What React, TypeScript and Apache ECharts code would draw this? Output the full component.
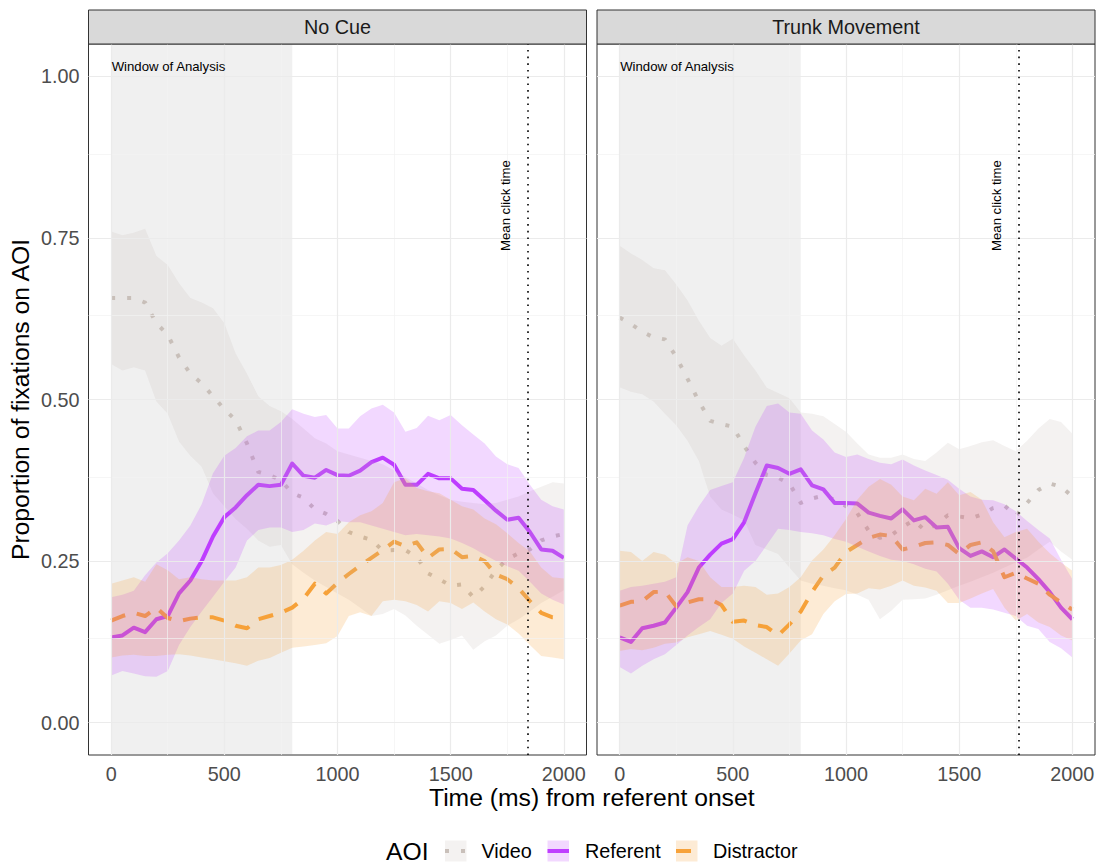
import React, { useEffect, useRef } from "react";
import * as echarts from "echarts";

const FONT = "'Liberation Sans', Arial, Helvetica, sans-serif";

const PANELS = ["No Cue", "Trunk Movement"];
const CLICK_TIMES = [1841, 1763];
const WINDOW_RANGE = [0, 800];
const X_TICKS = [0, 500, 1000, 1500, 2000];
const X_MINOR = [250, 750, 1250, 1750];
const Y_TICKS = [0, 0.25, 0.5, 0.75, 1];
const Y_MINOR = [0.125, 0.375, 0.625, 0.875];
const AOI = ["Video", "Referent", "Distractor"];
const LINE_COLORS = ["#C9C0BA", "#BF3EFF", "#F7A23A"];
const RIBBON_COLORS = ["rgba(201,192,186,0.2)", "rgba(191,62,255,0.2)", "rgba(247,162,58,0.21)"];

const TIME = [0, 50, 100, 150, 200, 250, 300, 350, 400, 450,
  500, 550, 600, 650, 700, 750, 800, 850, 900, 950,
  1000, 1050, 1100, 1150, 1200, 1250, 1300, 1350, 1400, 1450,
  1500, 1550, 1600, 1650, 1700, 1750, 1800, 1850, 1900, 1950, 2000];

// ---- No Cue: means
const NC_VIDEO = [0.657, 0.657, 0.657, 0.650, 0.618, 0.600, 0.565, 0.540, 0.525, 0.505,
  0.485, 0.468, 0.432, 0.388, 0.383, 0.375, 0.355, 0.348, 0.330, 0.323,
  0.312, 0.295, 0.288, 0.283, 0.266, 0.267, 0.267, 0.256, 0.231, 0.222,
  0.212, 0.214, 0.194, 0.211, 0.236, 0.253, 0.262, 0.268, 0.282, 0.288, 0.292];
const NC_REF = [0.132, 0.135, 0.147, 0.140, 0.160, 0.165, 0.200, 0.220, 0.250, 0.288,
  0.318, 0.333, 0.352, 0.368, 0.366, 0.368, 0.401, 0.382, 0.379, 0.391,
  0.383, 0.382, 0.390, 0.403, 0.410, 0.399, 0.368, 0.368, 0.385, 0.378,
  0.378, 0.362, 0.360, 0.344, 0.328, 0.314, 0.317, 0.295, 0.268, 0.266, 0.255];
const NC_DIS = [0.158, 0.165, 0.170, 0.165, 0.178, 0.162, 0.157, 0.161, 0.163, 0.163,
  0.158, 0.150, 0.146, 0.160, 0.165, 0.170, 0.178, 0.192, 0.215, 0.200,
  0.216, 0.230, 0.243, 0.255, 0.267, 0.280, 0.273, 0.279, 0.255, 0.268,
  0.269, 0.256, 0.258, 0.250, 0.229, 0.222, 0.208, 0.188, 0.170, 0.163, 0.163];

// ---- No Cue: ribbons (upper / lower)
const NC_VIDEO_HI = [0.760, 0.754, 0.758, 0.764, 0.722, 0.708, 0.680, 0.657, 0.650, 0.641,
  0.618, 0.571, 0.540, 0.505, 0.490, 0.482, 0.470, 0.455, 0.440, 0.432,
  0.420, 0.415, 0.410, 0.405, 0.400, 0.390, 0.380, 0.370, 0.360, 0.352,
  0.345, 0.342, 0.340, 0.338, 0.340, 0.345, 0.350, 0.358, 0.365, 0.372, 0.370];
const NC_VIDEO_LO = [0.555, 0.545, 0.550, 0.545, 0.497, 0.478, 0.435, 0.413, 0.396, 0.355,
  0.335, 0.315, 0.300, 0.282, 0.272, 0.275, 0.245, 0.232, 0.220, 0.210,
  0.200, 0.190, 0.178, 0.165, 0.168, 0.176, 0.166, 0.150, 0.136, 0.122,
  0.128, 0.135, 0.113, 0.126, 0.135, 0.150, 0.160, 0.172, 0.185, 0.195, 0.205];
const NC_REF_HI = [0.194, 0.198, 0.204, 0.228, 0.248, 0.262, 0.282, 0.305, 0.338, 0.386,
  0.413, 0.425, 0.443, 0.452, 0.452, 0.465, 0.485, 0.478, 0.473, 0.476,
  0.455, 0.455, 0.474, 0.486, 0.492, 0.480, 0.450, 0.456, 0.475, 0.468,
  0.476, 0.460, 0.446, 0.432, 0.412, 0.400, 0.394, 0.368, 0.345, 0.335, 0.330];
const NC_REF_LO = [0.073, 0.080, 0.076, 0.072, 0.071, 0.080, 0.120, 0.148, 0.172, 0.195,
  0.218, 0.240, 0.282, 0.298, 0.302, 0.302, 0.295, 0.298, 0.308, 0.305,
  0.312, 0.310, 0.310, 0.305, 0.300, 0.295, 0.290, 0.292, 0.290, 0.288,
  0.285, 0.278, 0.270, 0.260, 0.250, 0.242, 0.235, 0.218, 0.200, 0.190, 0.183];
const NC_DIS_HI = [0.215, 0.220, 0.225, 0.218, 0.245, 0.236, 0.222, 0.225, 0.222, 0.220,
  0.220, 0.220, 0.225, 0.240, 0.240, 0.244, 0.252, 0.266, 0.282, 0.295,
  0.292, 0.310, 0.321, 0.327, 0.340, 0.372, 0.378, 0.363, 0.358, 0.355,
  0.345, 0.335, 0.330, 0.316, 0.307, 0.293, 0.278, 0.265, 0.240, 0.225, 0.223];
const NC_DIS_LO = [0.101, 0.104, 0.105, 0.103, 0.103, 0.105, 0.106, 0.104, 0.101, 0.098,
  0.095, 0.092, 0.088, 0.096, 0.100, 0.108, 0.116, 0.118, 0.120, 0.123,
  0.134, 0.165, 0.171, 0.165, 0.188, 0.190, 0.188, 0.182, 0.172, 0.188,
  0.185, 0.176, 0.186, 0.172, 0.160, 0.152, 0.138, 0.120, 0.103, 0.101, 0.098];

// ---- Trunk Movement: means
const TM_VIDEO = [0.627, 0.617, 0.605, 0.596, 0.593, 0.566, 0.532, 0.497, 0.467, 0.462,
  0.458, 0.428, 0.402, 0.383, 0.379, 0.370, 0.340, 0.347, 0.351, 0.345,
  0.335, 0.324, 0.297, 0.286, 0.290, 0.303, 0.313, 0.297, 0.307, 0.321,
  0.319, 0.316, 0.322, 0.332, 0.336, 0.320, 0.340, 0.360, 0.370, 0.365, 0.350];
const TM_REF = [0.132, 0.125, 0.146, 0.150, 0.155, 0.178, 0.202, 0.240, 0.260, 0.277,
  0.284, 0.310, 0.355, 0.398, 0.394, 0.385, 0.392, 0.367, 0.361, 0.340,
  0.340, 0.339, 0.325, 0.320, 0.316, 0.330, 0.313, 0.318, 0.302, 0.303,
  0.270, 0.258, 0.265, 0.256, 0.268, 0.254, 0.240, 0.222, 0.202, 0.178, 0.160];
const TM_DIS = [0.181, 0.187, 0.188, 0.202, 0.203, 0.180, 0.186, 0.191, 0.191, 0.182,
  0.156, 0.158, 0.151, 0.148, 0.135, 0.152, 0.172, 0.202, 0.228, 0.240,
  0.264, 0.275, 0.286, 0.291, 0.289, 0.268, 0.272, 0.278, 0.279, 0.275,
  0.261, 0.275, 0.279, 0.265, 0.225, 0.232, 0.223, 0.215, 0.198, 0.186, 0.175];

// ---- Trunk Movement: ribbons (upper / lower)
const TM_VIDEO_HI = [0.738, 0.726, 0.716, 0.703, 0.700, 0.678, 0.653, 0.622, 0.595, 0.583,
  0.594, 0.568, 0.545, 0.518, 0.510, 0.502, 0.480, 0.478, 0.474, 0.462,
  0.450, 0.432, 0.415, 0.410, 0.410, 0.415, 0.408, 0.405, 0.418, 0.433,
  0.423, 0.428, 0.434, 0.437, 0.428, 0.420, 0.436, 0.455, 0.470, 0.465, 0.447];
const TM_VIDEO_LO = [0.519, 0.512, 0.508, 0.497, 0.478, 0.460, 0.436, 0.405, 0.350, 0.330,
  0.322, 0.313, 0.275, 0.268, 0.261, 0.240, 0.220, 0.215, 0.212, 0.208,
  0.205, 0.198, 0.190, 0.160, 0.173, 0.190, 0.191, 0.192, 0.198, 0.205,
  0.212, 0.218, 0.225, 0.232, 0.240, 0.248, 0.255, 0.268, 0.280, 0.265, 0.252];
const TM_REF_HI = [0.204, 0.210, 0.212, 0.215, 0.218, 0.225, 0.305, 0.335, 0.360, 0.366,
  0.372, 0.410, 0.458, 0.490, 0.494, 0.480, 0.478, 0.452, 0.438, 0.418,
  0.411, 0.415, 0.408, 0.402, 0.400, 0.407, 0.398, 0.390, 0.383, 0.376,
  0.362, 0.350, 0.345, 0.344, 0.338, 0.327, 0.312, 0.298, 0.285, 0.252, 0.222];
const TM_REF_LO = [0.086, 0.076, 0.088, 0.098, 0.106, 0.120, 0.135, 0.148, 0.160, 0.185,
  0.200, 0.235, 0.250, 0.275, 0.300, 0.298, 0.295, 0.293, 0.290, 0.284,
  0.280, 0.272, 0.265, 0.258, 0.252, 0.250, 0.245, 0.238, 0.234, 0.215,
  0.190, 0.178, 0.178, 0.175, 0.170, 0.165, 0.150, 0.145, 0.125, 0.115, 0.101];
const TM_DIS_HI = [0.266, 0.264, 0.250, 0.264, 0.260, 0.246, 0.256, 0.250, 0.225, 0.210,
  0.210, 0.212, 0.210, 0.198, 0.200, 0.210, 0.225, 0.251, 0.268, 0.290,
  0.315, 0.345, 0.365, 0.377, 0.368, 0.350, 0.344, 0.362, 0.354, 0.372,
  0.352, 0.357, 0.345, 0.310, 0.287, 0.295, 0.300, 0.280, 0.262, 0.248, 0.235];
const TM_DIS_LO = [0.111, 0.114, 0.112, 0.116, 0.122, 0.124, 0.132, 0.137, 0.142, 0.136,
  0.130, 0.118, 0.108, 0.098, 0.088, 0.107, 0.127, 0.137, 0.168, 0.188,
  0.199, 0.200, 0.208, 0.206, 0.212, 0.220, 0.212, 0.209, 0.204, 0.185,
  0.185, 0.192, 0.200, 0.207, 0.178, 0.158, 0.168, 0.155, 0.148, 0.135, 0.127];

const MEANS = [[NC_VIDEO, NC_REF, NC_DIS], [TM_VIDEO, TM_REF, TM_DIS]];
const HIS = [[NC_VIDEO_HI, NC_REF_HI, NC_DIS_HI], [TM_VIDEO_HI, TM_REF_HI, TM_DIS_HI]];
const LOS = [[NC_VIDEO_LO, NC_REF_LO, NC_DIS_LO], [TM_VIDEO_LO, TM_REF_LO, TM_DIS_LO]];

// ---- layout
const GRID_LEFT = [88.5, 597];
const GRID_W = 498;
const GRID_TOP = 44;
const GRID_H = 711;
const LINE_W = 4;
const DASHES: any[] = [[4, 12], "solid", [15, 12]];

function buildOption() {
  const grid = GRID_LEFT.map((l) => ({
    left: l, top: GRID_TOP, width: GRID_W, height: GRID_H, show: true,
    borderColor: "#333333", borderWidth: 1, containLabel: false, outerBoundsMode: "none",
  }));
  const xAxis = [0, 1].map((p) => ({
    type: "value", gridIndex: p, min: -100, max: 2100,
    axisLine: { show: false }, splitLine: { show: false },
    axisTick: { show: true, customValues: X_TICKS, length: 5, lineStyle: { color: "#333333", width: 1 } },
    axisLabel: { customValues: X_TICKS, color: "#4D4D4D", fontSize: 19.8, lineHeight: 18, fontFamily: FONT, margin: 10, formatter: (v: number) => String(v) },
  }));
  const yAxis = [0, 1].map((p) => ({
    type: "value", gridIndex: p, min: -0.05, max: 1.05,
    axisLine: { show: false }, splitLine: { show: false },
    axisTick: { show: p === 0, customValues: Y_TICKS, length: 5, lineStyle: { color: "#333333", width: 1 } },
    axisLabel: { show: p === 0, customValues: Y_TICKS, color: "#4D4D4D", fontSize: 19.8, fontFamily: FONT, margin: 9, formatter: (v: number) => v.toFixed(2) },
  }));

  const series: any[] = [];
  for (let p = 0; p < 2; p++) {
    const major = { color: "#EBEBEB", width: 1.2, type: "solid" };
    const minor = { color: "#F2F2F2", width: 0.7, type: "solid" };
    series.push({
      type: "line", xAxisIndex: p, yAxisIndex: p, data: [[-100, -0.05]], symbol: "none",
      lineStyle: { opacity: 0 }, z: 1, silent: true,
      markLine: {
        silent: true, symbol: ["none", "none"], label: { show: false }, emphasis: { disabled: true },
        data: [
          ...X_MINOR.map((v) => ({ xAxis: v, lineStyle: minor })),
          ...Y_MINOR.map((v) => ({ yAxis: v, lineStyle: minor })),
          ...X_TICKS.map((v) => ({ xAxis: v, lineStyle: major })),
          ...Y_TICKS.map((v) => ({ yAxis: v, lineStyle: major })),
        ],
      },
    });
    series.push({
      type: "line", xAxisIndex: p, yAxisIndex: p, data: [[-100, -0.05]], symbol: "none",
      lineStyle: { opacity: 0 }, z: 2, silent: true,
      markArea: {
        silent: true, label: { show: false }, emphasis: { disabled: true },
        itemStyle: { color: "rgba(150,150,150,0.14)" },
        data: [[{ xAxis: WINDOW_RANGE[0] }, { xAxis: WINDOW_RANGE[1] }]],
      },
      markLine: {
        silent: true, symbol: ["none", "none"], label: { show: false }, emphasis: { disabled: true },
        lineStyle: { color: "#000000", width: 1.6, type: [1.6, 5.1], cap: "butt" },
        data: [{ xAxis: CLICK_TIMES[p] }],
      },
    });
    for (let a = 0; a < 3; a++) {
      series.push({
        type: "line", name: AOI[a], xAxisIndex: p, yAxisIndex: p, z: 3, silent: true,
        data: TIME.map((t, i) => [t, MEANS[p][a][i]]),
        showSymbol: false, symbol: "none",
        lineStyle: { color: LINE_COLORS[a], width: LINE_W, type: DASHES[a], cap: "butt", join: "round" },
      });
    }
    for (let a = 0; a < 3; a++) {
      const hi = HIS[p][a];
      const lo = LOS[p][a];
      const color = RIBBON_COLORS[a];
      series.push({
        type: "custom", xAxisIndex: p, yAxisIndex: p, z: 4, silent: true,
        data: [[TIME[0], lo[0]]],
        renderItem: (_params: any, api: any) => {
          const pts: number[][] = [];
          for (let i = 0; i < TIME.length; i++) pts.push(api.coord([TIME[i], hi[i]]));
          for (let i = TIME.length - 1; i >= 0; i--) pts.push(api.coord([TIME[i], lo[i]]));
          return { type: "polygon", shape: { points: pts }, style: { fill: color, stroke: null } };
        },
      });
    }
  }
  return { animation: false, grid, xAxis, yAxis, series };
}

function buildGraphics(chart: any) {
  const g: any[] = [];
  for (let p = 0; p < 2; p++) {
    g.push({
      type: "rect", z: 10, shape: { x: GRID_LEFT[p], y: 10, width: GRID_W, height: GRID_TOP - 10 },
      style: { fill: "#D9D9D9", stroke: "#333333", lineWidth: 1 },
    });
    g.push({
      type: "text", z: 11, x: GRID_LEFT[p] + GRID_W / 2, y: (10 + GRID_TOP) / 2,
      style: { text: PANELS[p], fill: "#1A1A1A", fontSize: 19.8, fontFamily: FONT, align: "center", verticalAlign: "middle" },
    });
    const w = chart.convertToPixel({ gridIndex: p }, [WINDOW_RANGE[0], 1.015]);
    g.push({
      type: "text", z: 11, x: w[0] + 0.5, y: w[1],
      style: { text: "Window of Analysis", fill: "#000000", fontSize: 13.2, fontFamily: FONT, align: "left", verticalAlign: "middle" },
    });
    const c = chart.convertToPixel({ gridIndex: p }, [CLICK_TIMES[p] - 100, 0.8]);
    g.push({
      type: "text", z: 11, x: c[0], y: c[1], rotation: Math.PI / 2,
      style: { text: "Mean click time", fill: "#000000", fontSize: 13.2, fontFamily: FONT, align: "center", verticalAlign: "middle" },
    });
  }
  g.push({
    type: "text", z: 11, x: (GRID_LEFT[0] + GRID_LEFT[1] + GRID_W) / 2, y: 797,
    style: { text: "Time (ms) from referent onset", fill: "#000000", fontSize: 24.7, lineHeight: 22, fontFamily: FONT, align: "center", verticalAlign: "middle" },
  });
  g.push({
    type: "text", z: 11, x: 20, y: GRID_TOP + GRID_H / 2, rotation: Math.PI / 2,
    style: { text: "Proportion of fixations on AOI", fill: "#000000", fontSize: 24.7, fontFamily: FONT, align: "center", verticalAlign: "middle" },
  });
  // legend
  const ly = 851;
  g.push({
    type: "text", z: 11, x: 386, y: ly,
    style: { text: "AOI", fill: "#000000", fontSize: 24.7, fontFamily: FONT, align: "left", verticalAlign: "middle" },
  });
  const keyX = [445, 547.5, 676];
  const textX = [481.5, 585, 713];
  for (let a = 0; a < 3; a++) {
    g.push({
      type: "rect", z: 11, shape: { x: keyX[a], y: ly - 10.5, width: 21.5, height: 21 },
      style: { fill: RIBBON_COLORS[a], lineWidth: 0 },
    });
    const dash = DASHES[a] === "solid" ? null : DASHES[a];
    g.push({
      type: "line", z: 12, shape: { x1: keyX[a], y1: ly, x2: keyX[a] + 21.5, y2: ly },
      style: { stroke: LINE_COLORS[a], lineWidth: LINE_W, lineDash: dash, lineCap: "butt" },
    });
    g.push({
      type: "text", z: 11, x: textX[a], y: ly,
      style: { text: AOI[a], fill: "#000000", fontSize: 19.8, fontFamily: FONT, align: "left", verticalAlign: "middle" },
    });
  }
  return g;
}

export default function App() {
  const ref = useRef<HTMLDivElement>(null);
  useEffect(() => {
    const el = ref.current;
    if (!el) return;
    const chart = echarts.init(el, null, { renderer: "svg", width: 1101, height: 865 });
    chart.setOption(buildOption());
    chart.setOption({ graphic: buildGraphics(chart) });
    return () => chart.dispose();
  }, []);
  return <div ref={ref} style={{ position: "absolute", left: 0, top: 0, width: 1101, height: 865, background: "#FFFFFF" }} />;
}
